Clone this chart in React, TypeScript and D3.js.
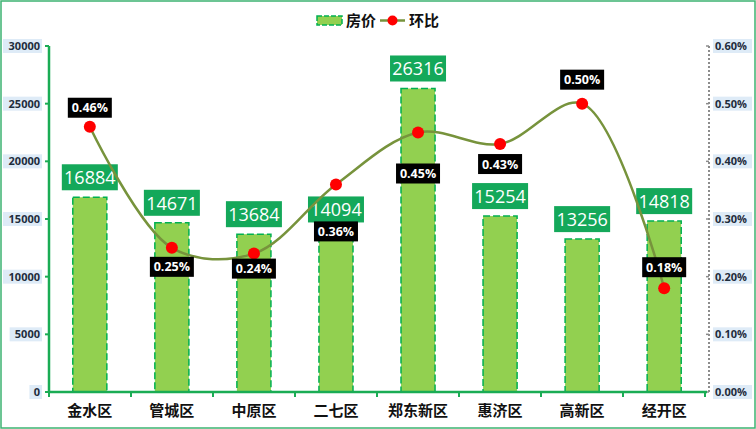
import React from "react";
import * as d3 from "d3";

const categories = ["金水区", "管城区", "中原区", "二七区", "郑东新区", "惠济区", "高新区", "经开区"];
const prices = [16884, 14671, 13684, 14094, 26316, 15254, 13256, 14818];
const ratios = [0.0046, 0.0025, 0.0024, 0.0036, 0.0045, 0.0043, 0.005, 0.0018];
const leftTicks = [0, 5000, 10000, 15000, 20000, 25000, 30000];
const rightTicks = [0, 0.001, 0.002, 0.003, 0.004, 0.005, 0.006];
const seriesNames = ["房价", "环比"];

// label placement offsets (layout, not data)
const ratioLabelDy = [-19, 19, 15, 47, 41, 20, -24, -21];

const W = 756;
const H = 429;
const M = { left: 49, right: 705, top: 46, bottom: 392 };

const CJK = "'Noto Sans CJK SC', 'Noto Sans', sans-serif";
const NUM = "'Open Sans', 'Noto Sans', sans-serif";

export default function App() {
  React.useEffect(() => {
    document.body.style.margin = "0";
  }, []);

  const x = d3.scaleBand<string>().domain(categories).range([M.left, M.right]).paddingInner(0.585).paddingOuter(0.29);
  const yL = d3.scaleLinear().domain([0, 30000]).range([M.bottom, M.top]);
  const yR = d3.scaleLinear().domain([0, 0.006]).range([M.bottom, M.top]);
  const cx = (c: string) => (x(c) as number) + x.bandwidth() / 2;
  const step = (M.right - M.left) / categories.length;

  const line = d3
    .line<number>()
    .x((_, i) => cx(categories[i]))
    .y((d) => yR(d))
    .curve(d3.curveCatmullRom.alpha(0.5));

  const pct = d3.format(".2%");

  return (
    <svg width={W} height={H} style={{ display: "block", position: "absolute", left: 0, top: 0, background: "#fff" }}>
      <rect x={1} y={1} width={W - 2} height={H - 2} fill="#fff" stroke="#3cb371" strokeWidth={1.5} />

      {/* legend */}
      <g>
        <rect x={317} y={16} width={25} height={9} fill="#92d050" stroke="#00b050" strokeWidth={1.5} strokeDasharray="5,2" />
        <text x={346} y={25.5} fontFamily={CJK} fontSize={15} fontWeight={700} fill="#111">{seriesNames[0]}</text>
        <line x1={380} x2={405} y1={20.5} y2={20.5} stroke="#77933c" strokeWidth={2.5} />
        <circle cx={392.5} cy={20.5} r={5} fill="#ff0000" />
        <text x={409} y={25.5} fontFamily={CJK} fontSize={15} fontWeight={700} fill="#111">{seriesNames[1]}</text>
      </g>

      {/* left axis */}
      <line x1={M.left} x2={M.left} y1={M.top} y2={M.bottom} stroke="#1aac54" strokeWidth={2.5} />
      {leftTicks.map((t) => {
        const label = String(t);
        const w = label.length * 6.6 + 4;
        return (
          <g key={t}>
            <line x1={M.left - 4} x2={M.left} y1={yL(t)} y2={yL(t)} stroke="#1aac54" strokeWidth={2} />
            <rect x={40 - w} y={yL(t) - 7} width={w + 2} height={14} fill="#deebf7" />
            <text x={40} y={yL(t) + 4} textAnchor="end" fontFamily={NUM} fontSize={11} fontWeight={700} fill="#1f2d3d">{label}</text>
          </g>
        );
      })}

      {/* right axis */}
      <line x1={709} x2={709} y1={M.top} y2={M.bottom} stroke="#8c8c8c" strokeWidth={2} strokeDasharray="2,2" />
      {rightTicks.map((t) => {
        const label = pct(t);
        return (
          <g key={t}>
            <line x1={706} x2={709} y1={yR(t)} y2={yR(t)} stroke="#8c8c8c" strokeWidth={1.5} />
            <rect x={713} y={yR(t) - 7} width={39} height={14} fill="#deebf7" />
            <text x={715} y={yR(t) + 4} fontFamily={NUM} fontSize={11} fontWeight={700} fill="#1f2d3d">{label}</text>
          </g>
        );
      })}

      {/* bars */}
      {prices.map((v, i) => (
        <rect
          key={categories[i]}
          x={x(categories[i])}
          y={yL(v)}
          width={x.bandwidth()}
          height={M.bottom - yL(v)}
          fill="#92d050"
          stroke="#00b050"
          strokeWidth={1.5}
          strokeDasharray="7,3"
        />
      ))}

      {/* bottom axis */}
      <line x1={M.left} x2={M.right + 2} y1={M.bottom} y2={M.bottom} stroke="#1aac54" strokeWidth={2.5} />
      {d3.range(categories.length + 1).map((i) => (
        <line key={i} x1={M.left + i * step} x2={M.left + i * step} y1={M.bottom} y2={M.bottom + 5} stroke="#1aac54" strokeWidth={2} />
      ))}
      {categories.map((c) => (
        <text key={c} x={cx(c)} y={416} textAnchor="middle" fontFamily={CJK} fontSize={15} fontWeight={700} fill="#111">{c}</text>
      ))}

      {/* value labels */}
      {prices.map((v, i) => {
        const c = cx(categories[i]);
        const top = yL(v) - 7;
        return (
          <g key={"v" + i}>
            <rect x={c - 28} y={top - 26} width={56} height={26} fill="#14a85a" />
            <text x={c} y={top - 6} textAnchor="middle" fontFamily={NUM} fontSize={18} fill="#fff">{v}</text>
          </g>
        );
      })}

      {/* line */}
      <path d={line(ratios) || ""} fill="none" stroke="#77933c" strokeWidth={2.5} />
      {ratios.map((r, i) => (
        <circle key={"p" + i} cx={cx(categories[i])} cy={yR(r)} r={6} fill="#ff0000" />
      ))}

      {/* ratio labels */}
      {ratios.map((r, i) => {
        const c = cx(categories[i]);
        const cy = yR(r) + ratioLabelDy[i];
        return (
          <g key={"r" + i}>
            <rect x={c - 22} y={cy - 10} width={44} height={20} fill="#000" />
            <text x={c} y={cy + 4.5} textAnchor="middle" fontFamily={NUM} fontSize={12.5} fontWeight={700} fill="#fff">{pct(r)}</text>
          </g>
        );
      })}
    </svg>
  );
}
